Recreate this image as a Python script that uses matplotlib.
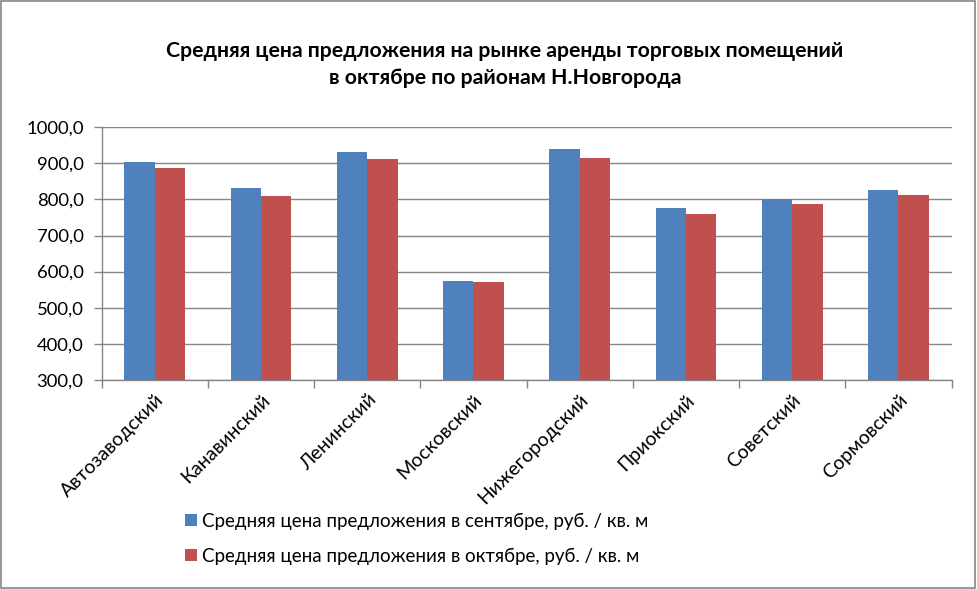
import matplotlib
matplotlib.use("Agg")
import matplotlib.pyplot as plt
import numpy as np
from matplotlib.patches import Rectangle, Patch

plt.rcParams['font.family'] = ['Lato', 'DejaVu Sans']

districts = ["Автозаводский", "Канавинский", "Ленинский", "Московский",
             "Нижегородский", "Приокский", "Советский", "Сормовский"]
sept = [904, 832, 932, 574, 940, 777, 800, 826]
octo = [887, 810, 912, 572, 915, 760, 787, 813]
series_names = ["Средняя цена предложения в сентябре, руб. / кв. м",
                "Средняя цена предложения в октябре, руб. / кв. м"]
yticks = [300, 400, 500, 600, 700, 800, 900, 1000]
title = "Средняя цена предложения на рынке аренды торговых помещений\nв октябре по районам Н.Новгорода"

blue = "#4F81BD"
red = "#C0504D"
grid = "#868686"

fig = plt.figure(figsize=(9.77, 5.89), dpi=100)
ax = fig.add_axes([0.104, 0.355, 0.870, 0.429])

x = np.arange(len(districts))
w = 1 / 3.5
ax.bar(x - w / 2, sept, width=w, color=blue, zorder=3)
ax.bar(x + w / 2, octo, width=w, color=red, zorder=3)

ax.set_xlim(-0.5, len(districts) - 0.5)
ax.set_ylim(300, 1000)
ax.set_yticks(yticks)
ax.set_yticklabels([f"{v:.1f}".replace(".", ",") for v in yticks], fontsize=13.3)
ax.yaxis.grid(True, color=grid, linewidth=1, zorder=0)
ax.set_axisbelow(True)

ax.set_xticks(x)
ax.set_xticklabels(districts, rotation=45, ha='right', rotation_mode='anchor', fontsize=14)
ax.set_xticks(np.arange(-0.5, len(districts)), minor=True)
ax.tick_params(axis='x', which='major', length=0, pad=8)
ax.tick_params(axis='x', which='minor', length=6, color=grid, width=1)
ax.tick_params(axis='y', length=6, color=grid, width=1, pad=7)

for s in ['top', 'right']:
    ax.spines[s].set_visible(False)
for s in ['left', 'bottom']:
    ax.spines[s].set_color(grid)
    ax.spines[s].set_linewidth(1)

fig.text(0.517, 0.89, title, ha='center', va='center', fontsize=15.3,
         fontweight='bold', linespacing=1.45)

handles = [Patch(facecolor=blue), Patch(facecolor=red)]
fig.legend(handles, series_names, loc='upper left', bbox_to_anchor=(0.182, 0.142),
           bbox_transform=fig.transFigure, frameon=False, fontsize=13.5,
           handlelength=0.6, handleheight=0.6, handletextpad=0.3, labelspacing=0.95,
           borderaxespad=0)

fig.patches.append(Rectangle((0.001, 0.002), 0.997, 0.996, transform=fig.transFigure,
                             fill=False, edgecolor=grid, linewidth=1.2))

fig.savefig("out.png", dpi=100)
